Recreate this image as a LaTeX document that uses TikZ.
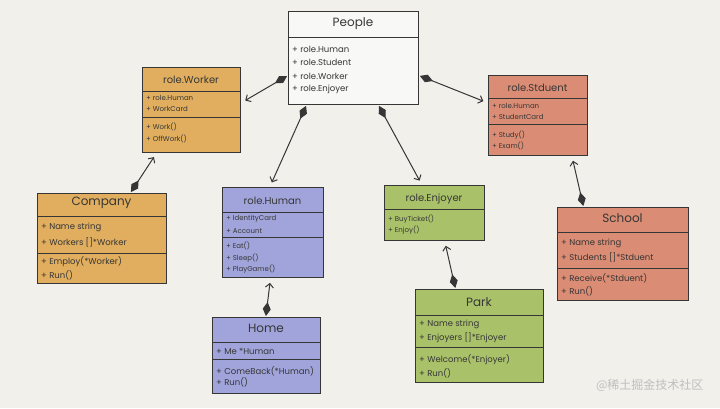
\documentclass[tikz,border=0pt]{standalone}
\usepackage{fontspec}
\setmainfont{Poppins}
\newfontfamily\cjkfont{Noto Sans CJK SC}
\usetikzlibrary{arrows.meta}

\definecolor{paper}{HTML}{F1F0EB}
\definecolor{ink}{HTML}{363636}
\definecolor{peoplec}{HTML}{F8F8F6}
\definecolor{workerc}{HTML}{E0AE5E}
\definecolor{studentc}{HTML}{DB8C74}
\definecolor{humanc}{HTML}{A0A4DA}
\definecolor{enjoyerc}{HTML}{A9C26A}

\tikzset{
  classbox/.style={draw=ink,line width=0.9pt,anchor=north west,inner sep=0pt},
  bigtitle/.style={text=ink,font=\fontsize{12}{14}\selectfont},
  smalltitle/.style={text=ink,font=\fontsize{10}{12}\selectfont},
  bigitem/.style={text=ink,anchor=west,inner sep=0pt,font=\fontsize{8.5}{10}\selectfont},
  smallitem/.style={text=ink,anchor=west,inner sep=0pt,font=\fontsize{7}{8}\selectfont},
  sep/.style={draw=ink,line width=0.9pt},
  comp/.style={draw=ink,line width=1pt,
    {Diamond[length=14pt,width=8pt]}-{Straight Barb[length=4pt,width=8pt]},
    shorten <=1pt,shorten >=5pt}
}

\begin{document}
\begin{tikzpicture}[x=1pt,y=-1pt]
\fill[paper] (0,0) rectangle (720,408);
\useasboundingbox (0,0) rectangle (720,408);

% People
\node[classbox,fill=peoplec,minimum width=130pt,minimum height=93pt] (people) at (288,11) {};
\node[bigtitle] (people-t) at (353,24) {People};
\draw[sep] (288,37) -- (418,37);
\node[bigitem] (people-a1) at (292,49) {+ role.Human};
\node[bigitem] (people-a2) at (292,62) {+ role.Student};
\node[bigitem] (people-a3) at (292,76) {+ role.Worker};
\node[bigitem] (people-a4) at (292,89) {+ role.Enjoyer};

% role.Worker
\node[classbox,fill=workerc,minimum width=98pt,minimum height=85pt] (worker) at (142,67) {};
\node[smalltitle] (worker-t) at (191,80) {role.Worker};
\draw[sep] (142,91) -- (240,91);
\node[smallitem] (worker-a1) at (146,98) {+ role.Human};
\node[smallitem] (worker-a2) at (146,109) {+ WorkCard};
\draw[sep] (142,117) -- (240,117);
\node[smallitem] (worker-m1) at (146,127) {+ Work()};
\node[smallitem] (worker-m2) at (146,139) {+ OffWork()};

% role.Stduent
\node[classbox,fill=studentc,minimum width=99pt,minimum height=80pt] (stduent) at (488,75) {};
\node[smalltitle] (stduent-t) at (537.5,88) {role.Stduent};
\draw[sep] (488,98) -- (587,98);
\node[smallitem] (stduent-a1) at (492,106) {+ role.Human};
\node[smallitem] (stduent-a2) at (492,117) {+ StudentCard};
\draw[sep] (488,124) -- (587,124);
\node[smallitem] (stduent-m1) at (492,135) {+ Study()};
\node[smallitem] (stduent-m2) at (492,146) {+ Exam()};

% Company
\node[classbox,fill=workerc,minimum width=129pt,minimum height=90pt] (company) at (37,193) {};
\node[bigtitle] (company-t) at (101.5,203) {Company};
\draw[sep] (37,216) -- (166,216);
\node[bigitem] (company-a1) at (41,227) {+ Name string};
\node[bigitem] (company-a2) at (41,242) {+ Workers []*Worker};
\draw[sep] (37,253) -- (166,253);
\node[bigitem] (company-m1) at (41,262) {+ Employ(*Worker)};
\node[bigitem] (company-m2) at (41,275) {+ Run()};

% role.Human
\node[classbox,fill=humanc,minimum width=101pt,minimum height=90pt] (human) at (222,187) {};
\node[smalltitle] (human-t) at (272.5,201) {role.Human};
\draw[sep] (222,212) -- (323,212);
\node[smallitem] (human-a1) at (226,219) {+ IdentityCard};
\node[smallitem] (human-a2) at (226,231) {+ Account};
\draw[sep] (222,237) -- (323,237);
\node[smallitem] (human-m1) at (226,246) {+ Eat()};
\node[smallitem] (human-m2) at (226,258) {+ Sleep()};
\node[smallitem] (human-m3) at (226,269) {+ PlayGame()};

% role.Enjoyer
\node[classbox,fill=enjoyerc,minimum width=100pt,minimum height=55pt] (enjoyer) at (384,185) {};
\node[smalltitle] (enjoyer-t) at (434,199) {role.Enjoyer};
\draw[sep] (384,209) -- (484,209);
\node[smallitem] (enjoyer-m1) at (388,219) {+ BuyTicket()};
\node[smallitem] (enjoyer-m2) at (388,230) {+ Enjoy()};

% School
\node[classbox,fill=studentc,minimum width=131pt,minimum height=93pt] (school) at (557,207) {};
\node[bigtitle] (school-t) at (622.5,218) {School};
\draw[sep] (557,232) -- (688,232);
\node[bigitem] (school-a1) at (561,243) {+ Name string};
\node[bigitem] (school-a2) at (561,257) {+ Students []*Stduent};
\draw[sep] (557,268) -- (688,268);
\node[bigitem] (school-m1) at (561,278) {+ Receive(*Stduent)};
\node[bigitem] (school-m2) at (561,291) {+ Run()};

% Home
\node[classbox,fill=humanc,minimum width=108pt,minimum height=76pt] (home) at (212,317) {};
\node[bigtitle] (home-t) at (266,328) {Home};
\draw[sep] (212,342) -- (320,342);
\node[bigitem] (home-a1) at (216,351) {+ Me *Human};
\draw[sep] (212,359) -- (320,359);
\node[bigitem] (home-m1) at (216,371) {+ ComeBack(*Human)};
\node[bigitem] (home-m2) at (216,382) {+ Run()};

% Park
\node[classbox,fill=enjoyerc,minimum width=128pt,minimum height=93pt] (park) at (415,289) {};
\node[bigtitle] (park-t) at (479,302) {Park};
\draw[sep] (415,315) -- (543,315);
\node[bigitem] (park-a1) at (419,324) {+ Name string};
\node[bigitem] (park-a2) at (419,338) {+ Enjoyers []*Enjoyer};
\draw[sep] (415,347) -- (543,347);
\node[bigitem] (park-m1) at (419,360) {+ Welcome(*Enjoyer)};
\node[bigitem] (park-m2) at (419,373) {+ Run()};

% compositions
\draw[comp] (people.195) -- (worker.8);
\draw[comp] (people.-15) -- (stduent.166);
\draw[comp] (people.225) -- (human.94);
\draw[comp] (people.-62) -- (enjoyer.114);
\draw[comp] (company.58) -- (worker.231);
\draw[comp] (home.91) -- (human.267);
\draw[comp] (park.117) -- (enjoyer.-70);
\draw[comp] (school.130) -- (stduent.-50);

\node[anchor=east,text=black!25,font=\cjkfont\fontsize{12}{14}\selectfont] (mark) at (707,385) {@稀土掘金技术社区};
\end{tikzpicture}
\end{document}
